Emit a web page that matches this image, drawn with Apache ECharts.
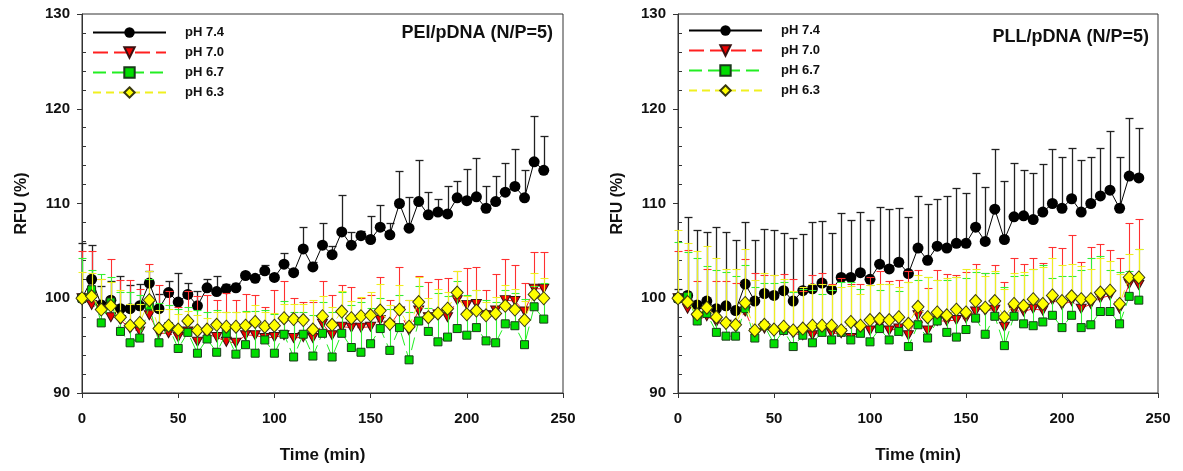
<!DOCTYPE html>
<html>
<head>
<meta charset="utf-8">
<script src="https://cdn.jsdelivr.net/npm/echarts@6/dist/echarts.min.js"></script>
<style>html,body{margin:0;padding:0;background:#fff}#c{width:1183px;height:471px}</style>
</head>
<body>
<div id="c"></div>
<script>
const time = [0,5,10,15,20,25,30,35,40,45,50,55,60,65,70,75,80,85,90,95,100,105,110,115,120,125,130,135,140,145,150,155,160,165,170,175,180,185,190,195,200,205,210,215,220,225,230,235,240];
const xTicks = [0,50,100,150,200,250];
const yTicks = [90,100,110,120,130];
const seriesNames = ['pH 7.4','pH 7.0','pH 6.7','pH 6.3'];
const titles = ['PEI/pDNA (N/P=5)','PLL/pDNA (N/P=5)'];

// PEI/pDNA
const pei74 = [100.0,102.0,99.3,99.8,98.9,98.9,99.2,101.6,98.9,100.6,99.6,100.4,99.2,101.1,100.7,101.0,101.1,102.4,102.1,102.9,102.2,103.6,102.7,105.2,103.3,105.6,104.6,107.0,105.6,106.6,106.2,107.5,106.7,110.0,107.4,110.2,108.8,109.1,108.9,110.6,110.3,110.7,109.5,110.2,111.2,111.8,110.6,114.4,113.5];
const pei74err = [5.8,3.6,2.0,2.0,3.5,2.5,2.3,1.3,1.5,1.2,3.1,1.2,1.6,0.9,1.6,0.5,0.5,0.3,0.4,0.6,0.3,1.2,0.3,2.3,0.5,2.3,0.9,3.9,1.4,0.5,2.5,2.3,1.2,3.4,3.3,4.4,2.4,1.4,2.9,1.8,3.3,4.1,2.3,2.7,3.1,3.9,2.9,4.8,3.6];
const pei70 = [100.0,99.3,98.8,98.0,97.7,96.8,96.5,98.2,96.3,96.3,95.9,96.5,95.4,96.2,95.9,95.4,95.3,96.1,96.1,95.8,95.9,96.1,95.8,95.9,95.8,97.3,96.1,97.0,96.9,96.9,97.0,97.7,97.1,98.6,96.6,98.7,98.0,98.3,98.0,99.8,99.3,99.4,98.2,98.7,99.8,99.7,98.6,101.0,101.0];
const pei70err = [5.0,5.7,3.2,6.1,4.2,5.1,4.5,5.4,5.1,4.5,3.2,4.3,4.8,4.1,3.9,5.2,4.5,4.3,4.2,3.3,5.0,5.7,4.2,3.7,3.8,4.5,4.2,4.4,4.3,3.1,3.3,4.5,2.7,4.7,3.2,3.7,3.7,3.7,4.1,3.1,3.9,3.9,2.7,3.9,4.3,3.8,3.0,3.9,3.9];
const pei67 = [100.0,100.9,97.4,99.6,96.5,95.3,95.8,99.2,95.3,97.0,94.7,96.4,94.2,95.7,94.3,96.3,94.1,95.1,94.2,95.6,94.2,96.2,93.8,96.2,93.9,96.3,93.8,96.3,94.8,94.3,95.2,96.8,94.5,96.9,93.5,97.6,96.5,95.4,95.9,96.8,96.1,96.9,95.5,95.3,97.3,97.1,95.1,99.1,97.8];
const pei67err = [4.2,2.1,5.2,2.6,4.2,5.4,4.5,2.8,4.2,2.3,4.2,2.7,4.6,2.9,4.5,2.2,4.4,3.6,4.5,3.2,4.1,3.5,4.8,2.4,4.3,3.3,4.7,4.4,4.5,5.3,3.8,3.2,4.4,3.4,5.1,3.7,2.5,5.2,4.3,5.0,4.2,4.0,4.3,4.3,3.6,3.5,4.8,2.2,3.8];
const pei63 = [100.0,100.2,98.8,99.2,98.0,97.1,97.4,99.8,96.8,97.1,96.7,97.6,96.6,96.7,97.2,97.0,97.0,97.1,97.5,97.0,97.1,97.9,97.8,97.7,96.7,98.1,97.2,98.6,97.9,98.1,98.2,98.7,97.3,98.8,97.0,99.6,98.0,98.4,98.9,100.6,98.3,98.7,98.2,98.4,99.2,98.8,97.7,100.4,100.0];
const pei63err = [2.8,2.5,3.2,2.5,2.9,2.3,2.0,3.1,2.0,1.8,1.6,1.1,1.6,1.2,1.4,1.6,1.5,1.5,1.8,1.6,1.3,1.5,1.6,1.7,3.1,2.1,1.9,2.2,1.8,2.0,2.5,2.8,2.0,2.6,2.8,2.6,2.0,2.6,1.8,2.3,1.9,2.2,1.4,1.7,2.2,2.2,2.0,2.3,2.1];

// PLL/pDNA
const pll74 = [100.0,100.3,99.3,99.7,98.9,99.2,98.7,101.5,99.7,100.5,100.3,100.8,99.7,100.8,101.0,101.6,100.9,102.2,102.2,102.7,102.0,103.6,103.1,103.8,102.6,105.3,104.0,105.5,105.3,105.8,105.8,107.5,106.0,109.4,106.2,108.6,108.7,108.3,109.1,110.0,109.5,110.5,109.1,110.0,110.8,111.4,109.5,112.9,112.7];
const pll74err = [1.0,8.3,7.9,7.3,8.6,7.8,7.5,6.5,6.5,6.8,6.9,6.1,6.7,6.0,7.0,6.6,6.0,6.8,6.1,6.4,6.3,6.0,6.3,5.7,6.0,5.5,6.0,5.0,5.5,5.8,5.3,5.7,5.7,6.4,6.2,5.7,4.8,4.9,5.1,5.8,5.4,5.4,5.5,4.9,5.1,6.2,5.4,6.1,5.3];
const pll70 = [100.0,98.9,97.7,98.1,97.5,97.2,97.0,98.6,96.3,96.8,96.5,96.6,96.3,96.1,96.1,96.5,96.3,96.3,95.8,96.6,96.6,97.2,96.6,96.8,96.1,98.2,96.6,97.6,97.6,97.7,97.9,98.6,98.7,98.8,97.0,98.7,98.6,98.9,98.7,99.8,99.3,99.7,98.9,99.4,100.0,100.3,98.9,101.5,101.4];
const pll70err = [5.0,6.2,4.1,5.0,4.3,4.6,4.6,5.5,6.4,5.7,6.0,6.0,5.7,4.7,6.4,6.2,5.2,5.8,5.7,4.9,5.6,5.7,5.2,5.1,6.8,4.8,4.5,5.4,5.0,4.8,4.9,5.0,4.0,4.7,4.7,5.6,5.0,5.3,5.0,5.6,6.0,7.0,4.9,6.0,5.7,4.8,5.3,6.4,7.0];
const pll67 = [100.0,100.2,97.6,98.4,96.4,96.0,96.0,98.9,95.8,97.1,95.2,96.6,94.9,96.1,95.3,96.4,95.6,96.4,95.6,96.3,95.4,96.8,95.6,96.5,94.9,97.2,95.8,97.6,96.4,95.9,96.7,97.9,96.2,98.1,95.0,98.1,97.3,97.1,97.5,98.2,96.9,98.2,96.9,97.2,98.6,98.6,97.3,100.2,99.8];
const pll67err = [5.9,4.7,6.6,5.0,6.6,6.8,6.3,4.6,5.4,4.5,6.4,5.1,5.8,4.9,5.6,4.1,5.3,5.3,6.1,4.7,6.0,4.1,5.9,4.3,6.8,4.7,6.4,4.3,5.5,6.3,5.4,4.9,6.5,4.6,6.2,4.2,5.2,6.0,6.0,3.9,5.5,4.1,6.1,7.1,5.9,4.4,5.5,2.7,5.4];
const pll63 = [100.0,99.6,98.3,99.0,98.0,97.4,97.2,99.5,96.6,97.2,96.7,97.0,96.6,96.8,97.1,97.1,97.1,96.6,97.5,97.1,97.7,97.8,97.7,98.0,97.3,99.1,98.0,98.5,98.2,98.8,98.5,99.7,99.0,99.7,98.0,99.4,99.2,99.9,99.4,100.3,99.7,100.2,99.9,99.9,100.6,100.8,99.4,102.2,102.2];
const pll63err = [7.2,6.2,6.7,6.5,6.2,5.7,5.9,5.7,5.3,5.5,5.8,5.0,4.2,4.4,4.4,4.4,4.3,4.6,3.8,3.4,3.7,3.7,3.8,3.2,4.4,3.4,4.2,3.4,3.9,3.4,4.6,3.4,3.4,3.2,3.0,3.3,3.6,3.2,3.9,4.0,3.8,3.4,3.5,3.2,3.7,3.1,3.2,2.5,3.0];

const panels = [
  {vals:[pei74,pei70,pei67,pei63], errs:[pei74err,pei70err,pei67err,pei63err]},
  {vals:[pll74,pll70,pll67,pll63], errs:[pll74err,pll70err,pll67err,pll63err]}
];

const FONT = '"Liberation Sans", Arial, sans-serif';
const AX = '#333';
const styles = [
  {symbol:'circle', size:11, rotate:0, fill:'#000', border:'#000', line:'#000', dash:'solid', err:'#222', errW:1.3},
  {symbol:'triangle', size:[10,9], rotate:180, fill:'#ee0000', border:'#3a1010', line:'#ff2020', dash:[15,6], err:'#ff3030', errW:1.1},
  {symbol:'rect', size:8, rotate:0, fill:'#00dd00', border:'#1a3a1a', line:'#22ee22', dash:[13,6], err:'#33ee33', errW:1.1},
  {symbol:'diamond', size:[12,13], rotate:0, fill:'#ffff00', border:'#3a3a10', line:'#f0f020', dash:[8,5], err:'#eeee20', errW:1.1}
];

function errRender(color, w){
  return function(params, api){
    const x = api.value(0), y = api.value(1), e = api.value(2);
    const p0 = api.coord([x, y]);
    const p1 = api.coord([x, y + e]);
    const cx = Math.round(p0[0]) + 0.5;
    const ty = Math.round(p1[1]) + 0.5;
    return {type:'group', children:[
      {type:'line', shape:{x1:cx, y1:p0[1], x2:cx, y2:ty}, style:{stroke:color, lineWidth:w}},
      {type:'line', shape:{x1:cx-4, y1:ty, x2:cx+4, y2:ty}, style:{stroke:color, lineWidth:w}}
    ]};
  };
}

const grids = [
  {left:82, top:14, width:481, height:379},
  {left:678, top:14, width:480, height:379}
];

const xAxes = [], yAxes = [], series = [], legends = [], titleComps = [];
grids.forEach((g, gi) => {
  g.show = true; g.borderColor = AX; g.borderWidth = 1; g.backgroundColor = 'transparent';
  xAxes.push({
    gridIndex: gi, type:'value', min: xTicks[0], max: xTicks[xTicks.length-1], interval: xTicks[1]-xTicks[0],
    axisLine:{show:true, onZero:false, lineStyle:{color:AX, width:1}},
    axisTick:{show:true, length:5, lineStyle:{color:AX}},
    splitLine:{show:false},
    axisLabel:{margin:18, color:'#111', fontSize:15, fontWeight:'bold', fontFamily:FONT},
    name:'Time (min)', nameLocation:'middle', nameGap:54,
    nameTextStyle:{fontSize:17, fontWeight:'bold', color:'#111', fontFamily:FONT}
  });
  yAxes.push({
    gridIndex: gi, type:'value', min: yTicks[0], max: yTicks[yTicks.length-1], interval: yTicks[1]-yTicks[0],
    position:'left',
    axisLine:{show:true, lineStyle:{color:AX, width:1}},
    axisTick:{show:true, length:5, lineStyle:{color:AX}},
    splitLine:{show:false},
    axisLabel:{margin:12, color:'#111', fontSize:15, fontWeight:'bold', fontFamily:FONT},
    name:'RFU (%)', nameLocation:'middle', nameGap:52, nameRotate:90,
    nameTextStyle:{fontSize:16, fontWeight:'bold', color:'#111', fontFamily:FONT}
  });
  // minor inside ticks
  yAxes.push({
    gridIndex: gi, type:'value', min: yTicks[0], max: yTicks[yTicks.length-1], interval: yTicks[1]-yTicks[0],
    position:'left',
    axisLine:{show:false}, axisLabel:{show:false}, splitLine:{show:false},
    axisTick:{show:false, inside:true},
    minorTick:{show:true, splitNumber:5, length:4, lineStyle:{color:AX, width:1}}
  });
});

panels.forEach((p, gi) => {
  const yIdx = gi * 2;
  p.vals.forEach((vals, si) => {
    const st = styles[si];
    series.push({
      type:'custom', xAxisIndex:gi, yAxisIndex:yIdx, silent:true,
      renderItem: errRender(st.err, st.errW),
      encode:{x:0, y:1},
      data: time.map((t, i) => [t, vals[i], p.errs[si][i]]),
      z: 2 + si * 2
    });
    series.push({
      type:'line', name: seriesNames[si], xAxisIndex:gi, yAxisIndex:yIdx,
      data: time.map((t, i) => [t, vals[i]]),
      symbol: st.symbol, symbolSize: st.size, symbolRotate: st.rotate,
      showAllSymbol:true,
      itemStyle:{color: st.fill, borderColor: st.border, borderWidth: si === 0 ? 0 : 1},
      lineStyle:{color: st.line, width: 1, type: st.dash},
      z: 3 + si * 2
    });
  });
});

legends.push({
  left: 92, top: 26, orient:'vertical', padding:0, itemWidth:73, itemHeight:13, itemGap:7,
  selectedMode:false, data: seriesNames,
  textStyle:{fontSize:13, fontWeight:'bold', color:'#111', fontFamily:FONT, padding:[0,0,0,14]}
});
legends.push({
  left: 688, top: 24, orient:'vertical', padding:0, itemWidth:73, itemHeight:13, itemGap:7,
  selectedMode:false, data: seriesNames,
  textStyle:{fontSize:13, fontWeight:'bold', color:'#111', fontFamily:FONT, padding:[0,0,0,14]}
});

titleComps.push({text: titles[0], right: 1183-553, top: 23, padding:0,
  textStyle:{fontSize:18, fontWeight:'bold', color:'#111', fontFamily:FONT, lineHeight:20}});
titleComps.push({text: titles[1], right: 1183-1149, top: 27, padding:0,
  textStyle:{fontSize:18, fontWeight:'bold', color:'#111', fontFamily:FONT, lineHeight:20}});

const chart = echarts.init(document.getElementById('c'), null, {renderer:'canvas'});
chart.setOption({
  animation:false,
  backgroundColor:'#fff',
  title: titleComps,
  legend: legends,
  grid: grids,
  xAxis: xAxes,
  yAxis: yAxes,
  series: series
});
</script>
</body>
</html>
